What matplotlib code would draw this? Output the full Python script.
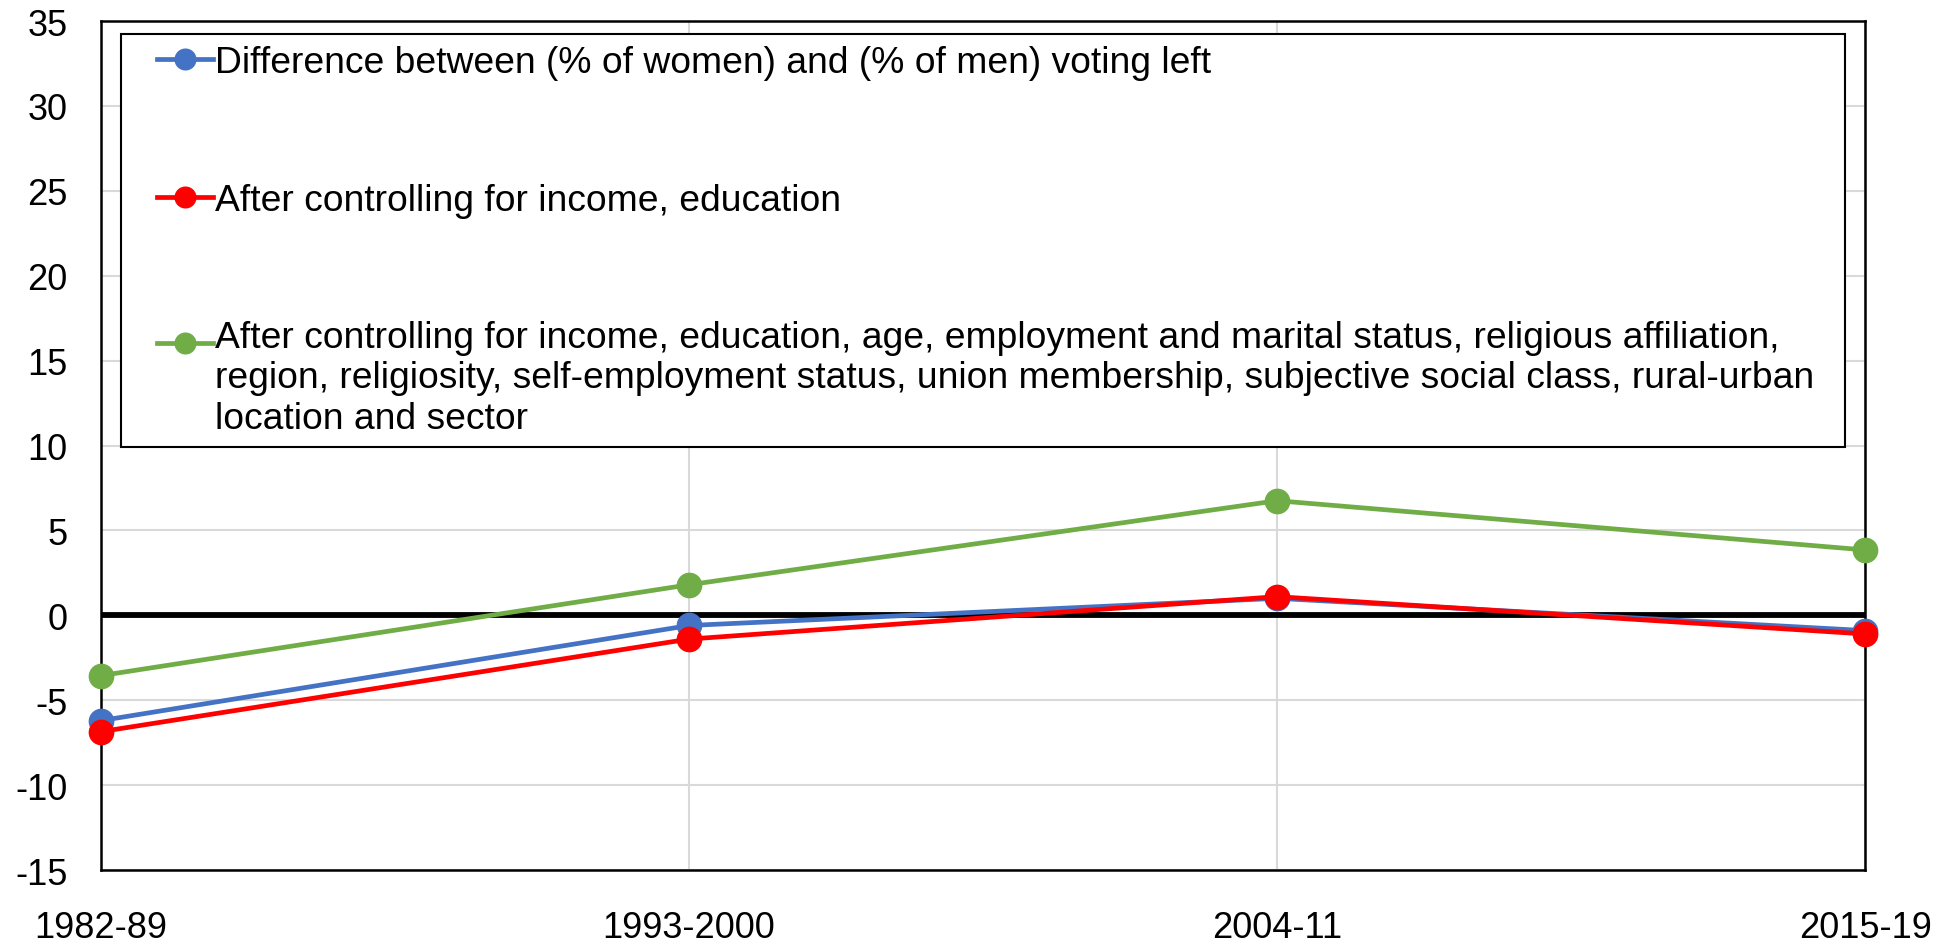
import matplotlib.pyplot as plt

plt.rcParams['font.family'] = ['Liberation Sans', 'DejaVu Sans']
plt.rcParams['axes.unicode_minus'] = False

periods = ['1982-89', '1993-2000', '2004-11', '2015-19']
raw_gap = [-6.2, -0.6, 1.0, -0.9]
ctrl_inc_edu = [-6.85, -1.4, 1.1, -1.1]
ctrl_all = [-3.55, 1.8, 6.75, 3.85]

labels = [
    'Difference between (% of women) and (% of men) voting left',
    'After controlling for income, education',
    'After controlling for income, education, age, employment and marital status, religious affiliation,\n'
    'region, religiosity, self-employment status, union membership, subjective social class, rural-urban\n'
    'location and sector',
]
colors = ['#4472C4', '#FF0000', '#70AD47']
TICK_FS = 26
LEG_FS = 26.8

fig = plt.figure(figsize=(19.55, 9.45), dpi=100)
ax = fig.add_axes([0.0517, 0.0783, 0.9023, 0.8984])

x = list(range(len(periods)))

# zero line below the series
ax.axhline(0, color='black', lw=4.2, zorder=2)

handles = []
for vals, c, lab in zip([raw_gap, ctrl_inc_edu, ctrl_all], colors, labels):
    h, = ax.plot(x, vals, color=c, lw=3.4, marker='o', markersize=17.5,
                 label=lab, zorder=3, clip_on=False)
    handles.append(h)
# red drawn above blue
handles[1].set_zorder(4)

ax.set_xlim(0, 3)
ax.set_ylim(-15, 35)
ax.set_yticks(range(-15, 36, 5))
ax.set_xticks(x)
ax.set_xticklabels(periods)
ax.grid(True, color='#d9d9d9', lw=1.5, zorder=0)
ax.set_axisbelow(True)
ax.tick_params(axis='both', length=0, labelsize=TICK_FS)
ax.tick_params(axis='y', pad=24)
ax.tick_params(axis='x', pad=29)
for sp in ax.spines.values():
    sp.set_linewidth(1.8)
    sp.set_color('black')

leg = ax.legend(handles=handles, loc='upper left',
                bbox_to_anchor=(0.0113, 0.5018, 0.9774, 0.4829), mode='expand',
                borderaxespad=0, fontsize=LEG_FS, frameon=True, fancybox=False,
                edgecolor='black', framealpha=1, labelspacing=2.75,
                handlelength=1.5, handletextpad=0.05, borderpad=0.3,
                markerscale=0.85)
leg.get_frame().set_linewidth(1.5)
for t in leg.get_texts():
    t.set_linespacing(1.2)

# extra left indent for the sample lines, and first-line alignment for the wrapped entry
entries = leg._legend_handle_box.get_children()[0].get_children()
indent = 18
for ent in entries:
    da = ent.get_children()[0]
    da.xdescent = indent
    da.width = da.width + indent
wrapped = entries[2]
wrapped.align = 'top'
wrapped.get_children()[0].height += 0.27 * LEG_FS

fig.savefig('out.png', dpi=100)
